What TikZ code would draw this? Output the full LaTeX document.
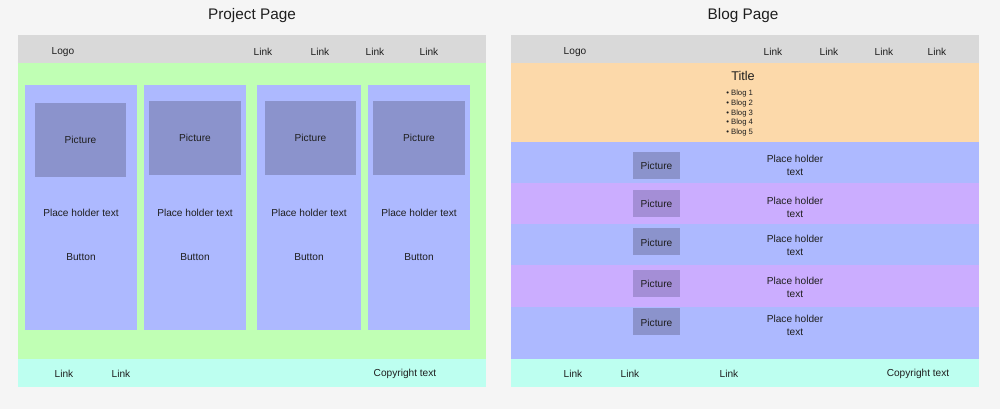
\documentclass[tikz,border=0pt]{standalone}
\usepackage{fontspec}
\setmainfont{Liberation Sans}
\usetikzlibrary{positioning}

\definecolor{pagebg}{HTML}{F5F5F5}
\definecolor{navgray}{HTML}{D9D9D9}
\definecolor{bodygreen}{HTML}{C0FFB4}
\definecolor{footcyan}{HTML}{BDFFF0}
\definecolor{cardblue}{HTML}{ADB9FF}
\definecolor{picblue}{HTML}{8B93CC}
\definecolor{rowpurple}{HTML}{CBADFF}
\definecolor{picpurple}{HTML}{A48ED6}
\definecolor{heroorange}{HTML}{FCD9AA}
\definecolor{ink}{HTML}{1E1E1E}

\begin{document}
\begin{tikzpicture}[
  x=0.75pt, y=-0.75pt,
  txt/.style = {font=\fontsize{7.6}{9.75}\selectfont, text=ink, inner sep=0pt, align=center, yshift=-0.6pt},
  small/.style = {font=\fontsize{5.8}{6.5}\selectfont, text=ink, inner sep=0pt, anchor=west},
  heading/.style = {font=\fontsize{11.5}{14}\selectfont, text=ink, inner sep=0pt}
  ]
  \fill[pagebg] (0,0) rectangle (1000,409);

  % project page
  \fill[navgray] (18,35) rectangle (486,63);
  \fill[bodygreen] (18,63) rectangle (486,359);
  \fill[footcyan] (18,359) rectangle (486,387);
  \node[heading] (projtitle) at (252,16) {Project Page};
  \node[txt] (plogo) at (63,51) {Logo};
  \foreach \x [count=\i] in {263,320,375,429}
    \node[txt] (plink\i) at (\x,51) {Link};

  \foreach \cl/\cr/\pl/\pr/\py [count=\i] in {25/137/35/126/103, 144/246/149/241/101, 257/361/265/356/101, 368/470/373/465/101} {
    \fill[cardblue] (\cl,85) rectangle (\cr,330);
    \fill[picblue] (\pl,\py) rectangle (\pr,{\py+74});
    \node[txt] (ppic\i) at ({(\pl+\pr)/2},{\py+36}) {Picture};
    \node[txt] (ptext\i) at ({(\cl+\cr)/2},212) {Place holder text};
    \node[txt] (pbtn\i) at ({(\cl+\cr)/2},256) {Button};
  }

  \node[txt] (pfoot1) at (64,373) {Link};
  \node[txt] (pfoot2) at (121,373) {Link};
  \node[txt] (pcopy) at (405,373) {Copyright text};

  % blog page
  \fill[navgray] (511,35) rectangle (979,63);
  \fill[heroorange] (511,63) rectangle (979,142);
  \fill[footcyan] (511,359) rectangle (979,387);
  \node[heading] (blogtitle) at (743,16) {Blog Page};
  \node[txt] (blogo) at (575,51) {Logo};
  \foreach \x [count=\i] in {773,829,884,937}
    \node[txt] (blink\i) at (\x,51) {Link};

  \node[txt, font=\fontsize{9.5}{11}\selectfont] (herotitle) at (743,75) {Title};
  \foreach \i in {1,...,5}
    \node[small] (blog\i) at (726,{93.5+9.8*(\i-1)}) {\textbullet\ Blog \i};

  \foreach \ra/\rb/\rc/\pc/\py/\ty [count=\i] in {142/183/cardblue/picblue/152/164.5, 183/224/rowpurple/picpurple/190/206.5, 224/265/cardblue/picblue/228.5/245, 265/307/rowpurple/picpurple/270/286.5, 307/359/cardblue/picblue/308.5/324.5} {
    \fill[\rc] (511,\ra) rectangle (979,\rb);
    \fill[\pc] (633,\py) rectangle (680,{\py+27});
    \node[txt] (bpic\i) at (656.5,{\py+13.5}) {Picture};
    \node[txt] (btext\i) at (795,\ty) {Place holder\\text};
  }

  \node[txt] (bfoot1) at (573,373) {Link};
  \node[txt] (bfoot2) at (630,373) {Link};
  \node[txt] (bfoot3) at (729,373) {Link};
  \node[txt] (bcopy) at (918,373) {Copyright text};
\end{tikzpicture}
\end{document}
